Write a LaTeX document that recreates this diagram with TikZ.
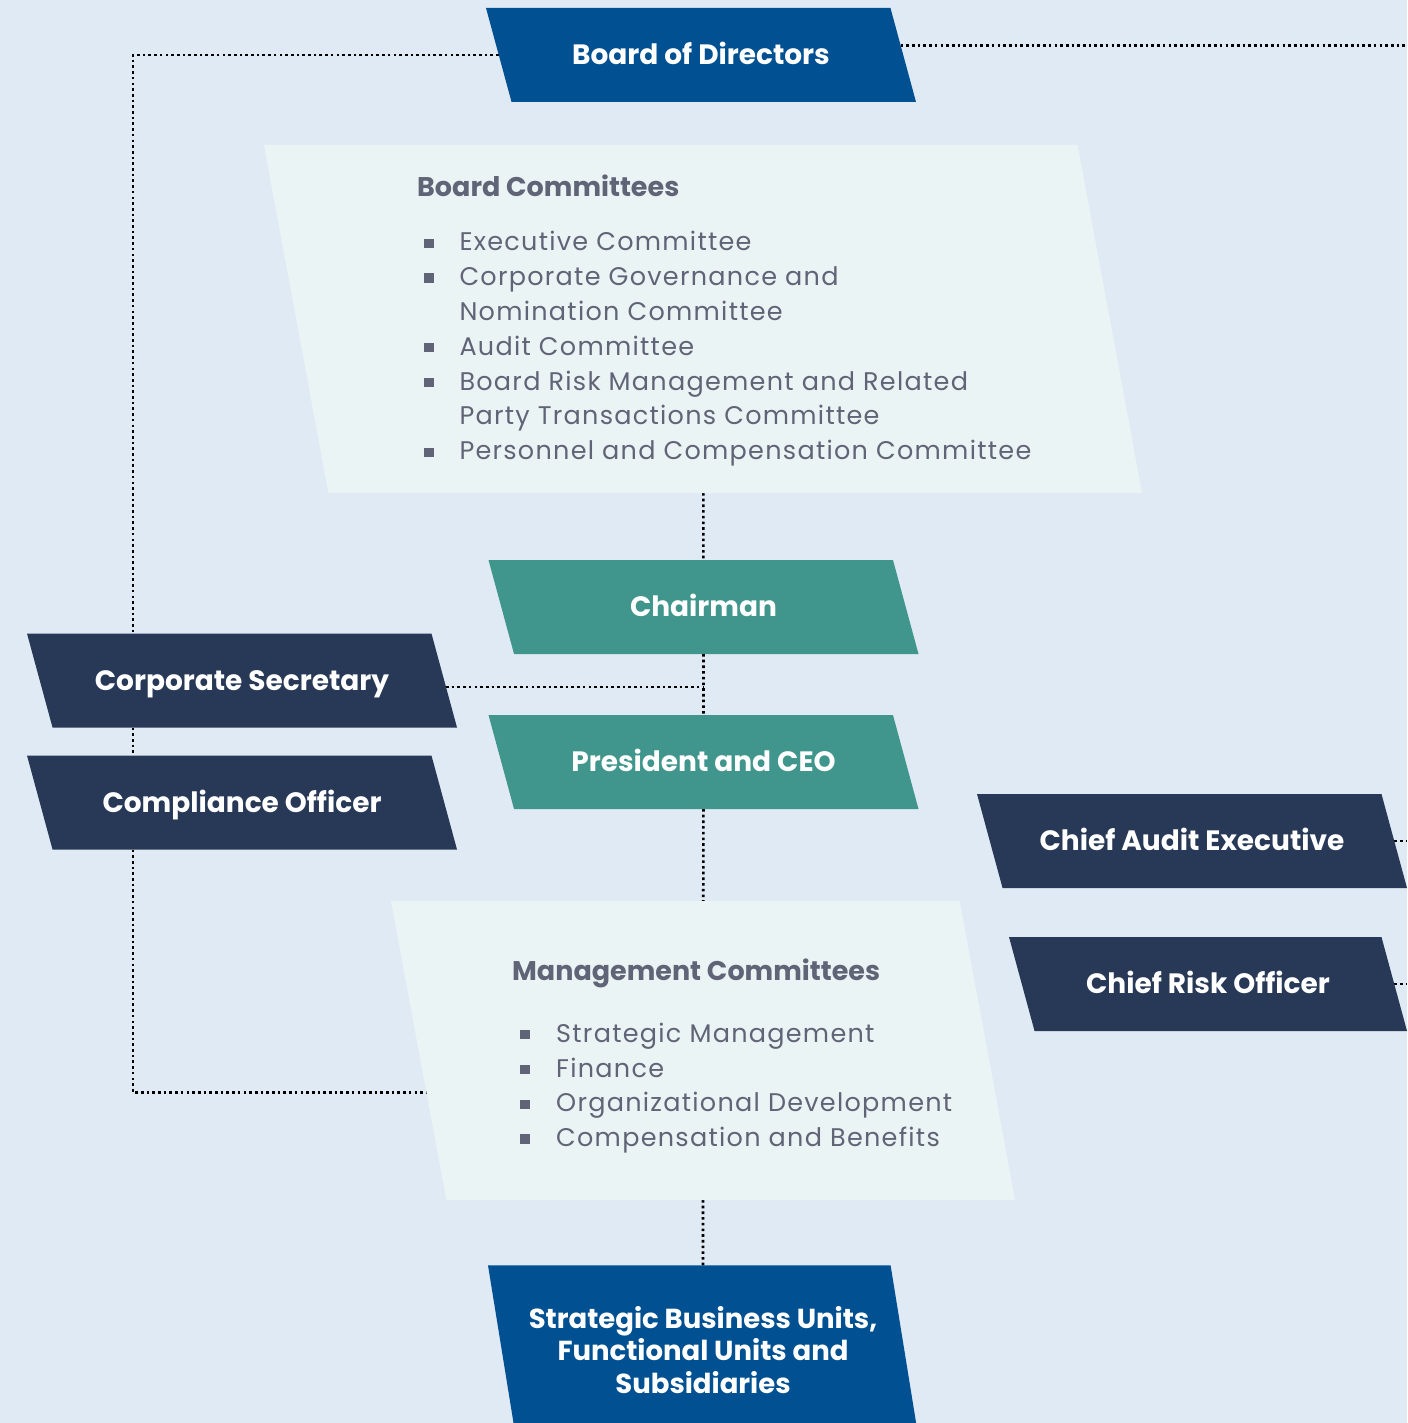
\documentclass[tikz,border=0pt]{standalone}
\usepackage{fontspec}
\setmainfont{Poppins}
\newfontfamily\panelfont[LetterSpace=5]{Poppins}
\usepackage{xcolor}
\usepackage{tikz}
\usetikzlibrary{shapes.geometric, positioning, calc, backgrounds}
\definecolor{pagebg}{RGB}{224,234,244}
\definecolor{boardblue}{RGB}{0,80,146}
\definecolor{execteal}{RGB}{64,150,140}
\definecolor{officenavy}{RGB}{40,57,87}
\definecolor{panelfill}{RGB}{235,244,244}
\definecolor{paneltext}{RGB}{95,101,119}
\newcommand{\sqbullet}{\rule[3pt]{10pt}{9.3pt}}
\tikzset{
    plate/.style={
        trapezium,
        trapezium left angle=105.2,
        trapezium right angle=74.8,
        trapezium stretches body,
        minimum width=430pt,
        inner xsep=0pt,
        outer sep=0pt,
        fill=officenavy,
        text=white,
        align=center,
        font=\fontsize{28}{32.5}\selectfont\bfseries
    },
    office/.style={
        plate,
        text height=19.6pt,
        text depth=0pt,
        inner ysep=37.2pt
    },
    board/.style={
        office,
        fill=boardblue
    },
    exec/.style={
        office,
        fill=execteal
    },
    panel/.style={
        trapezium,
        trapezium left angle=100.5,
        trapezium right angle=79.5,
        trapezium stretches body,
        inner sep=0pt,
        outer sep=0pt,
        fill=panelfill
    },
    paneltitle/.style={
        anchor=base west,
        inner sep=0pt,
        text=paneltext,
        font=\fontsize{27}{32}\selectfont\bfseries
    },
    panellist/.style={
        anchor=base west,
        inner sep=0pt,
        text=paneltext,
        font=\fontsize{25.5}{34.8}\panelfont
    },
    link/.style={
        draw=black,
        line width=2.6pt,
        dash pattern=on 2.6pt off 3.1pt
    }
}

\begin{document}
\begin{tikzpicture}[x=1pt, y=-1pt]

\useasboundingbox (0,0) rectangle (1407,1423);
\begin{scope}[on background layer]
\fill[pagebg] (0,0) rectangle (1407,1423);
\end{scope}
\clip (0,0) rectangle (1407,1423);

% Board level
\node[board] (bod) at (701,55) {Board of Directors};

\node[panel, minimum width=878pt, inner ysep=174pt] (bc) at (703,319) {};
\node[paneltitle] (bchead) at (417,196.7) {Board Committees};
\node[panellist] (bclist) at (423.3,251) {%
\begin{tabular}[t]{@{}l@{\hspace{26pt}}l@{}}
\sqbullet & Executive Committee\\
\sqbullet & Corporate Governance and\\
          & Nomination Committee\\
\sqbullet & Audit Committee\\
\sqbullet & Board Risk Management and Related\\
          & Party Transactions Committee\\
\sqbullet & Personnel and Compensation Committee
\end{tabular}};

% Executives
\node[exec] (chair) at (703.5,607) {Chairman};
\node[exec] (ceo) at (703.5,762) {President and CEO};

% Left column
\node[office] (cs) at (242,680.5) {Corporate Secretary};
\node[office] (co) at (242,802.5) {Compliance Officer};

% Right column
\node[office] (cae) at (1192,841) {Chief Audit Executive};
\node[office, minimum width=398pt] (cro) at (1208,984) {Chief Risk Officer};

% Management level
\node[panel, minimum width=624pt, inner ysep=149.5pt] (mc) at (703,1050.5) {};
\node[paneltitle] (mchead) at (512,980.7) {Management Committees};
\node[panellist] (mclist) at (520,1042.3) {%
\begin{tabular}[t]{@{}l@{\hspace{26pt}}l@{}}
\sqbullet & Strategic Management\\
\sqbullet & Finance\\
\sqbullet & Organizational Development\\
\sqbullet & Compensation and Benefits
\end{tabular}};

\node[plate, fill=boardblue, inner ysep=41pt, trapezium left angle=99.2, trapezium right angle=80.8,
      font=\fontsize{27.5}{32.5}\selectfont\bfseries] (sbu) at (703,1350)
      {Strategic Business Units,\\Functional Units and\\Subsidiaries};

% Reporting lines
\coordinate (leftrail) at (133,0);
\coordinate (edgeR) at (1407,0);
\coordinate (bodR) at ($(bod.top right corner)!0.4!(bod.bottom right corner)$);
\coordinate (csR) at ($(cs.top right corner)!0.57!(cs.bottom right corner)$);
\coordinate (mcL) at ($(mc.top left corner)!0.64!(mc.bottom left corner)$);
\begin{scope}[on background layer]
\draw[link] (bod.west) -| (leftrail |- cs.north);
\draw[link] (leftrail |- cs.south) -- (leftrail |- co.north);
\draw[link] (leftrail |- co.south) |- (mcL);
\draw[link] (bodR) -- (bodR -| edgeR);
\draw[link] (bc) -- (chair);
\draw[link] (chair) -- (ceo);
\draw[link] (csR) -- (csR -| chair.center);
\draw[link] (ceo) -- (mc);
\draw[link] (mc) -- (sbu);
\draw[link] (cae.east) -- (cae.east -| edgeR);
\draw[link] (cro.east) -- (cro.east -| edgeR);
\end{scope}

\end{tikzpicture}
\end{document}
